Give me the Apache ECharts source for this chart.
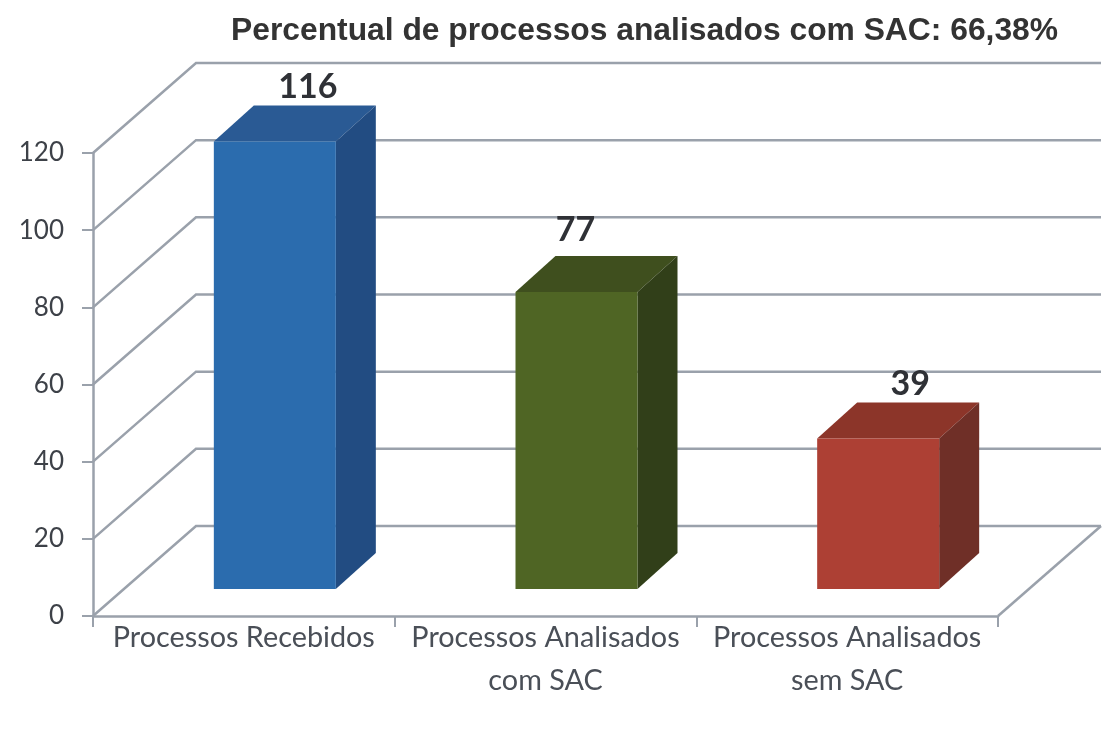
<!DOCTYPE html>
<html>
<head>
<meta charset="utf-8">
<style>
  html, body { margin: 0; padding: 0; background: #fff; }
  #chart { width: 1104px; height: 738px; }
</style>
<script src="https://cdn.jsdelivr.net/npm/echarts@6/dist/echarts.min.js"></script>
</head>
<body>
<div id="chart"></div>
<script>
const categories = ["Processos Recebidos", "Processos Analisados\ncom SAC", "Processos Analisados\nsem SAC"];
const values = [116, 77, 39];
const yTicks = [0, 20, 40, 60, 80, 100, 120];
const titleText = "Percentual de processos analisados com SAC: 66,38%";

const frontColors = ["#2b6cae", "#4f6524", "#ad4034"];
const topColors = ["#2a5a94", "#3f4f1e", "#8c3529"];
const sideColors = ["#224c82", "#313f19", "#6f2f27"];
const labelNudge = [[33, -18], [-1, -26], [32, -18]];

const wallDx = 103, wallDy = -90;
const barDx = 40, barDy = -36, floorShift = 27, barShift = 31, barWidth = 122;
const lineStyle = { stroke: "#9aa1ab", lineWidth: 2.5, fill: null };

const chart = echarts.init(document.getElementById("chart"));

function renderWall(params, api) {
  const c = api.coord([0, api.value(1)]);
  const band = api.size([1, 0])[0];
  const x0 = c[0] - band / 2, x1 = x0 + band * categories.length, y = c[1];
  const isFloor = api.value(1) === 0;
  const children = [
    { type: "polyline", shape: { points: [[x0, y], [x0 + wallDx, y + wallDy], [x1 + wallDx, y + wallDy]] }, style: lineStyle },
  ];
  if (isFloor) {
    children.push({ type: "line", shape: { x1: x1, y1: y, x2: x1 + wallDx, y2: y + wallDy }, style: lineStyle });
  }
  return { type: "group", children };
}

function renderBar(params, api) {
  const i = params.dataIndex;
  const base = api.coord([i, 0]);
  const top = api.coord([i, api.value(1)]);
  const l = base[0] + barShift - barWidth / 2, r = l + barWidth;
  const b = base[1] - floorShift, t = top[1] - floorShift;
  return {
    type: "group",
    children: [
      { type: "polygon", shape: { points: [[l, t], [r, t], [r + barDx, t + barDy], [l + barDx, t + barDy]] }, style: { fill: topColors[i] } },
      { type: "polygon", shape: { points: [[r, t], [r + barDx, t + barDy], [r + barDx, b + barDy], [r, b]] }, style: { fill: sideColors[i] } },
      { type: "rect", shape: { x: l, y: t, width: barWidth, height: b - t }, style: { fill: frontColors[i] } },
      {
        type: "text",
        style: {
          text: String(api.value(1)),
          x: base[0] + barShift + labelNudge[i][0],
          y: t + barDy + labelNudge[i][1],
          align: "center",
          verticalAlign: "middle",
          fill: "#2f3136",
          font: "bold 34px Lato, sans-serif",
        },
      },
    ],
  };
}

chart.setOption({
  animation: false,
  backgroundColor: "#fff",
  title: {
    text: titleText,
    left: 226,
    top: 10,
    textStyle: { color: "#333", fontFamily: "Liberation Sans", fontWeight: "bold", fontSize: 31.8 },
  },
  grid: { left: 93, right: 106, top: 153, bottom: 122 },
  xAxis: {
    type: "category",
    data: categories,
    axisLine: { lineStyle: { color: "#9aa1ab", width: 2.5 } },
    axisTick: { show: true, length: 11, lineStyle: { color: "#9aa1ab", width: 2 } },
    axisLabel: { color: "#4a4f57", fontFamily: "Lato", fontSize: 28.8, margin: 0, lineHeight: 43, interval: 0 },
  },
  yAxis: {
    type: "value",
    min: 0,
    max: 120,
    interval: 20,
    splitLine: { show: false },
    axisLine: { show: true, lineStyle: { color: "#9aa1ab", width: 2.5 } },
    axisTick: { show: true, length: 11, lineStyle: { color: "#9aa1ab", width: 2 } },
    axisLabel: { color: "#3d4148", fontFamily: "Lato", fontSize: 26, margin: 29 },
  },
  series: [
    {
      type: "custom",
      renderItem: renderWall,
      data: yTicks.map((t) => [0, t]),
      encode: { x: 0, y: 1 },
      clip: false,
      silent: true,
      z: 1,
    },
    {
      type: "custom",
      renderItem: renderBar,
      data: values.map((v, i) => [i, v]),
      encode: { x: 0, y: 1 },
      clip: false,
      z: 3,
    },
  ],
});
</script>
</body>
</html>
